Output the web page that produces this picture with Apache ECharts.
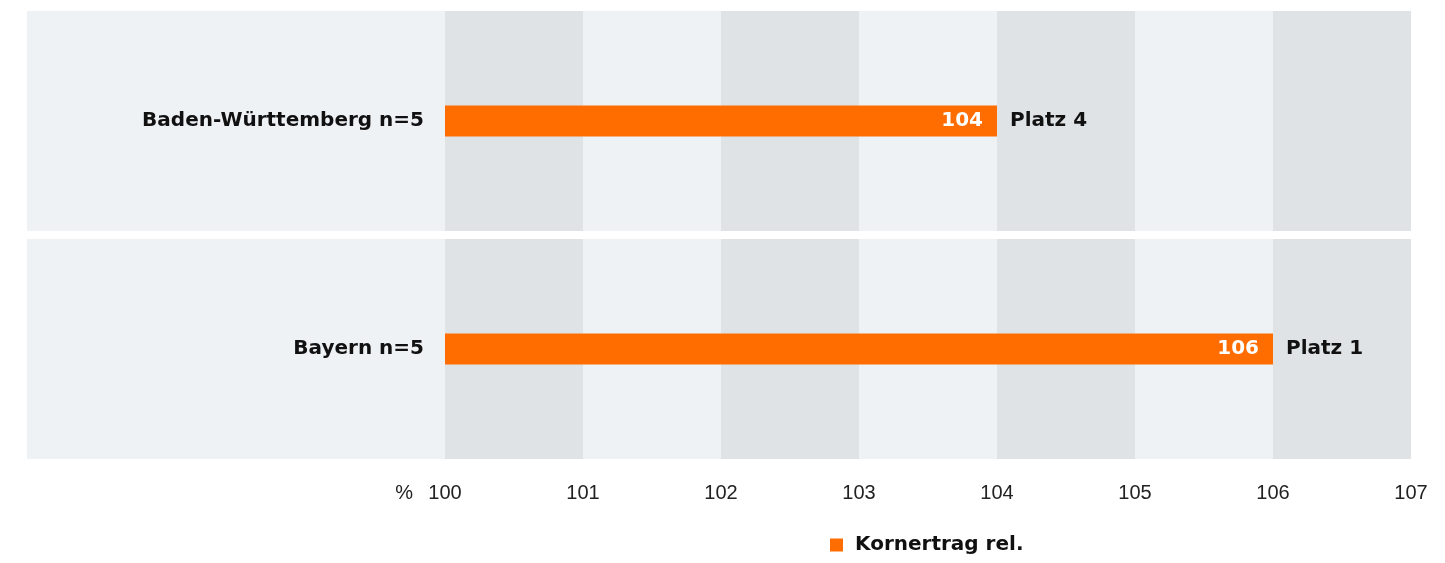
<!DOCTYPE html>
<html>
<head>
<meta charset="utf-8">
<script src="https://cdn.jsdelivr.net/npm/echarts@6/dist/echarts.min.js"></script>
<style>
html,body{margin:0;padding:0;background:#fff;}
#chart{width:1445px;height:563px;}
</style>
</head>
<body>
<div id="chart"></div>
<script>
const categories = ['Baden-Württemberg n=5', 'Bayern n=5'];
const values = [104, 106];
const places = ['Platz 4', 'Platz 1'];
const seriesName = 'Kornertrag rel.';
const xMin = 100, xMax = 107, xStep = 1;

const FONT = '"Liberation Sans", Arial, Helvetica, sans-serif';
const BOLD = '"DejaVu Sans", "Liberation Sans", sans-serif';
const ORANGE = '#ff6d00';
const LIGHT = '#eef2f5';
const DARK = '#dfe3e6';
const LEFT_EXT = 418;

const chart = echarts.init(document.getElementById('chart'));

chart.setOption({
  animation: false,
  textStyle: { fontFamily: FONT },
  grid: { left: 445, right: 34, top: 7, bottom: 100, containLabel: false },
  xAxis: {
    type: 'value', min: xMin, max: xMax, interval: xStep,
    name: '%', nameLocation: 'start', nameGap: 32,
    nameTextStyle: { fontFamily: FONT, fontSize: 20, color: '#222', align: 'right', verticalAlign: 'top', padding: [20, 0, 0, 0] },
    axisLine: { show: false }, axisTick: { show: false }, splitLine: { show: false },
    axisLabel: { fontFamily: FONT, fontSize: 20, color: '#222', margin: 20 }
  },
  yAxis: {
    type: 'category', data: categories, inverse: true,
    axisLine: { show: false }, axisTick: { show: false }, splitLine: { show: false },
    axisLabel: { fontFamily: BOLD, fontSize: 20, fontWeight: 'bold', color: '#111', margin: 21 }
  },
  legend: {
    data: [seriesName], left: 825, top: 530,
    icon: 'rect', itemWidth: 13, itemHeight: 13, itemGap: 10,
    textStyle: { fontFamily: BOLD, fontSize: 20, fontWeight: 'bold', color: '#111', padding: [0, 0, 0, 7] }
  },
  series: [
    {
      type: 'custom', name: 'bg', z: 0, silent: true, clip: false,
      encode: { x: 0, y: 1 },
      data: categories.map((c, i) => [xMin, i]),
      renderItem: function (params, api) {
        const idx = api.value(1);
        const c0 = api.coord([xMin, idx]);
        const c1 = api.coord([xMax, idx]);
        const bandH = api.size([0, 1])[1];
        const top = c0[1] - bandH / 2 + 4;
        const h = bandH - 8;
        const children = [{
          type: 'rect',
          shape: { x: c0[0] - LEFT_EXT, y: top, width: c1[0] - c0[0] + LEFT_EXT, height: h },
          style: { fill: LIGHT }
        }];
        for (let v = xMin; v < xMax; v += 2 * xStep) {
          const a = api.coord([v, idx])[0];
          const b = api.coord([v + xStep, idx])[0];
          children.push({ type: 'rect', shape: { x: a, y: top, width: b - a, height: h }, style: { fill: DARK } });
        }
        return { type: 'group', children: children };
      }
    },
    {
      type: 'bar', name: seriesName, z: 2, barWidth: 31,
      itemStyle: { color: ORANGE },
      data: values,
      label: {
        show: true, position: 'insideRight', distance: 14,
        fontFamily: BOLD, fontSize: 20, fontWeight: 'bold', color: '#fff'
      }
    },
    {
      type: 'scatter', name: 'places', z: 3, symbolSize: 0, silent: true,
      itemStyle: { opacity: 1 },
      data: values,
      label: {
        show: true, position: 'right', distance: 13,
        fontFamily: BOLD, fontSize: 20, fontWeight: 'bold', color: '#111',
        formatter: p => places[p.dataIndex]
      }
    }
  ]
});
</script>
</body>
</html>
